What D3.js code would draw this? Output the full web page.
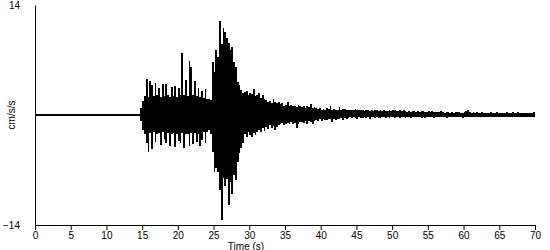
<!DOCTYPE html>
<html lang="en">
  <head>
    <meta charset="utf-8">
    <title>Accelerogram</title>
    <script src="https://d3js.org/d3.v7.min.js"></script>
    <style>
      body { margin: 0; background: white; }
      text { font-family: Arial, "Liberation Sans", sans-serif; font-size: 10px; fill: black; }
    </style>
  </head>
  <body>
    <svg width="550" height="250"></svg>
    <script>
      // time axis ticks (s)
      var timeTicks = [0, 5, 10, 15, 20, 25, 30, 35, 40, 45, 50, 55, 60, 65, 70];
      var accelTicks = [-14, 14];

      // trace is quiet until the P arrival, then read as peak pairs every 0.25 s
      var quietEnd = 14.75;
      var peakStart = 14.75;
      var peakStep = 0.25;

      // upper peaks per 0.25 s bin (cm/s/s), one line per second
      var peakHigh = [
        0.9, 1.8,
        2.4, 4.6, 2.3, 4.3,
        3.8, 2.4, 4.1, 2.5,
        3.5, 2.3, 3.9, 2.4,
        4.0, 2.5, 2.3, 3.6,
        2.4, 3.7, 2.3, 3.4,
        2.5, 7.9, 2.6, 4.5,
        2.4, 6.9, 6.1, 2.5,
        4.3, 2.4, 3.5, 2.3,
        3.1, 2.2, 3.3, 2.1,
        2.0, 1.9, 6.8, 5.5,
        8.3, 7.4, 12.0, 9.0,
        11.1, 10.6, 9.8, 9.2,
        8.3, 8.6, 6.7, 6.1,
        4.2, 3.8, 3.2, 2.8,
        2.9, 3.1, 2.5, 2.8,
        2.7, 3.3, 2.4, 2.6,
        2.8, 2.2, 2.5, 2.0,
        1.9, 1.6, 1.8, 1.5,
        2.0, 1.6, 1.5, 1.7,
        1.4, 1.5, 1.2, 1.3,
        1.7, 1.2, 1.3, 1.1,
        1.2, 1.0, 1.3, 1.1,
        1.0, 1.2, 0.9, 1.1,
        1.0, 1.4, 0.9, 1.0,
        0.9, 0.8, 0.9, 0.7,
        0.8, 0.7, 0.9, 0.8,
        1.15, 0.7, 0.8, 0.7,
        0.7, 1.05, 0.7, 0.8,
        0.8, 0.7, 0.6, 0.7,
        0.7, 0.6, 0.8, 0.6,
        0.6, 0.7, 0.6, 0.5,
        0.7, 0.6, 0.5, 0.6,
        0.5, 0.6, 0.7, 0.5,
        0.6, 0.5, 0.6, 0.5,
        0.5, 0.6, 0.5, 0.6,
        0.6, 0.5, 0.5, 0.6,
        0.5, 0.6, 0.5, 0.4,
        0.5, 0.4, 0.5, 0.5,
        0.4, 0.5, 0.4, 0.5,
        0.5, 0.4, 0.4, 0.5,
        0.4, 0.5, 0.4, 0.4,
        0.4, 0.4, 0.5, 0.4,
        0.3, 0.4, 0.4, 0.3,
        0.4, 0.3, 0.4, 0.4,
        0.4, 0.3, 0.3, 0.4,
        0.5, 0.6, 0.4, 0.3,
        0.4, 0.3, 0.4, 0.3,
        0.3, 0.4, 0.3, 0.3,
        0.3, 0.3, 0.4, 0.3,
        0.3, 0.4, 0.3, 0.3,
        0.3, 0.3, 0.3, 0.4,
        0.3, 0.3, 0.4, 0.3,
        0.3, 0.4, 0.3, 0.3,
        0.3, 0.3, 0.3, 0.3,
        0.3, 0.3, 0.4, 0.2
      ];

      // lower peaks per 0.25 s bin (cm/s/s)
      var peakLow = [
        -0.7, -1.9,
        -2.4, -3.5, -4.7, -2.3,
        -4.3, -2.2, -3.4, -2.4,
        -2.3, -3.8, -2.2, -3.1,
        -3.5, -2.3, -3.9, -2.4,
        -2.3, -4.1, -2.4, -3.3,
        -3.6, -2.3, -4.2, -2.4,
        -2.4, -3.9, -2.3, -3.7,
        -2.3, -3.4, -2.4, -3.9,
        -3.2, -2.2, -3.6, -2.1,
        -1.9, -2.4, -4.7, -7.2,
        -6.8, -7.2, -9.5, -13.4,
        -8.0, -9.0, -8.2, -11.5,
        -8.5, -10.0, -7.6, -8.3,
        -6.0, -4.8, -4.2, -3.5,
        -2.4, -2.8, -2.2, -2.6,
        -2.8, -2.3, -2.5, -2.1,
        -1.9, -2.2, -1.6, -2.0,
        -1.5, -1.8, -1.3, -1.6,
        -1.4, -1.9, -1.5, -1.3,
        -1.2, -1.0, -1.3, -1.1,
        -1.0, -1.2, -0.9, -1.1,
        -1.0, -1.65, -1.1, -0.9,
        -0.9, -1.0, -0.8, -1.1,
        -0.7, -0.9, -1.15, -0.8,
        -0.6, -0.7, -0.5, -0.7,
        -0.5, -0.6, -0.6, -0.5,
        -0.5, -0.9, -0.5, -0.6,
        -0.5, -0.5, -0.4, -0.6,
        -0.4, -0.5, -0.4, -0.3,
        -0.4, -0.3, -0.4, -0.5,
        -0.3, -0.4, -0.4, -0.3,
        -0.4, -0.3, -0.5, -0.3,
        -0.3, -0.4, -0.3, -0.4,
        -0.4, -0.3, -0.3, -0.4,
        -0.3, -0.4, -0.3, -0.3,
        -0.4, -0.3, -0.3, -0.4,
        -0.3, -0.3, -0.4, -0.3,
        -0.3, -0.4, -0.3, -0.3,
        -0.3, -0.3, -0.3, -0.4,
        -0.3, -0.4, -0.3, -0.3,
        -0.3, -0.3, -0.4, -0.3,
        -0.3, -0.3, -0.3, -0.3,
        -0.3, -0.4, -0.3, -0.3,
        -0.3, -0.3, -0.3, -0.3,
        -0.3, -0.3, -0.4, -0.3,
        -0.3, -0.3, -0.3, -0.3,
        -0.3, -0.3, -0.3, -0.2,
        -0.2, -0.3, -0.2, -0.3,
        -0.3, -0.2, -0.3, -0.2,
        -0.2, -0.3, -0.2, -0.2,
        -0.3, -0.2, -0.2, -0.3,
        -0.2, -0.2, -0.3, -0.2,
        -0.2, -0.3, -0.2, -0.2,
        -0.2, -0.2, -0.2, -0.3,
        -0.2, -0.2, -0.3, -0.2
      ];

      var svg = d3.select("svg");
      var x = d3.scaleLinear().domain([0, 70]).range([35, 535]);
      var y = d3.scaleLinear().domain([-14, 14]).range([225, 5]);

      // quiet pre-event trace
      svg.append("line")
        .attr("x1", x(0)).attr("x2", x(quietEnd))
        .attr("y1", y(0)).attr("y2", y(0))
        .attr("stroke", "black")
        .attr("stroke-width", 2);

      // each 0.25 s bin drawn as a column spanning its low and high peak
      var n = Math.min(peakHigh.length, peakLow.length);
      var bins = d3.range(n).map(function(i) {
        return {t: peakStart + i * peakStep, hi: peakHigh[i], lo: peakLow[i]};
      });

      svg.append("g")
        .attr("shape-rendering", "crispEdges")
        .selectAll("rect").data(bins).enter().append("rect")
        .attr("x", function(d) { return x(d.t); })
        .attr("width", function(d) {
          return x(Math.min(d.t + peakStep, 70)) - x(d.t);
        })
        .attr("y", function(d) { return y(d.hi); })
        .attr("height", function(d) { return y(d.lo) - y(d.hi); })
        .attr("fill", "black");

      // x axis
      var xAxis = svg.append("g")
        .attr("transform", "translate(0, 225)")
        .call(d3.axisBottom(x).tickValues(timeTicks).tickSize(5)
          .tickSizeOuter(0).tickPadding(2).tickFormat(d3.format("d")));
      xAxis.selectAll("text").attr("font-family", null).attr("font-size", null);
      xAxis.select(".domain").attr("stroke", "black");

      // y axis: plain line with end labels
      var yAxis = svg.append("g")
        .attr("transform", "translate(35, 0)")
        .call(d3.axisLeft(y).tickValues(accelTicks).tickSize(0)
          .tickSizeOuter(0).tickPadding(15).tickFormat(d3.format("d")));
      yAxis.selectAll("text").attr("font-family", null).attr("font-size", null);
      yAxis.select(".domain").attr("stroke", "black");

      svg.append("text")
        .attr("x", 246).attr("y", 249.5)
        .attr("text-anchor", "middle")
        .text("Time (s)");

      svg.append("text")
        .attr("transform", "translate(15, 115) rotate(-90)")
        .attr("text-anchor", "middle")
        .text("cm/s/s");
    </script>
  </body>
</html>
